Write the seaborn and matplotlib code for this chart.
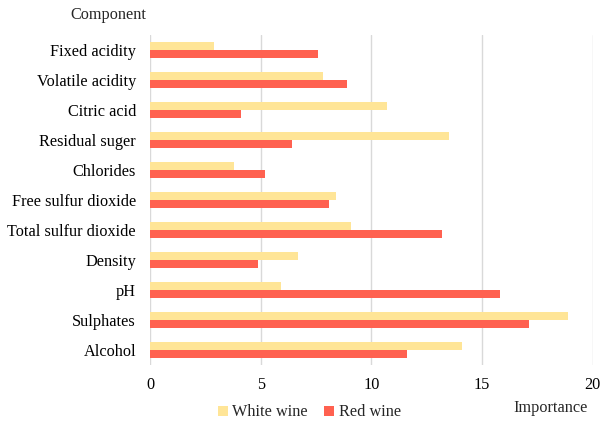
import pandas as pd
import seaborn as sns
import matplotlib
matplotlib.use("Agg")
import matplotlib.pyplot as plt

components = ["Fixed acidity", "Volatile acidity", "Citric acid", "Residual suger",
              "Chlorides", "Free sulfur dioxide", "Total sulfur dioxide", "Density",
              "pH", "Sulphates", "Alcohol"]
white_wine = [2.9, 7.8, 10.7, 13.5, 3.8, 8.4, 9.1, 6.7, 5.9, 18.9, 14.1]
red_wine = [7.6, 8.9, 4.1, 6.4, 5.2, 8.1, 13.2, 4.9, 15.8, 17.1, 11.6]
series = ["White wine", "Red wine"]
xticks = [0, 5, 10, 15, 20]

df = pd.DataFrame({
    "Component": components * 2,
    "Importance": white_wine + red_wine,
    "Wine": [series[0]] * len(components) + [series[1]] * len(components),
})

sns.set_style("white")
plt.rcParams["font.family"] = ["Liberation Serif", "DejaVu Serif"]

fig = plt.figure(figsize=(6, 4.23), dpi=100)
ax = fig.add_axes([0.25, 0.138, 0.738, 0.779])

sns.barplot(data=df, y="Component", x="Importance", hue="Wine", order=components,
            hue_order=series, palette=["#FFE597", "#FF6150"], width=0.54,
            orient="h", ax=ax, saturation=1, linewidth=0)

ax.set_xlim(0, 20)
ax.set_xticks(xticks)
ax.grid(axis="x", color="#D9D9D9", linewidth=1)
ax.set_axisbelow(True)
for s in ax.spines.values():
    s.set_visible(False)
ax.tick_params(axis="both", length=0, labelsize=11.7, colors="#000000")
ax.tick_params(axis="x", pad=9)
ax.tick_params(axis="y", pad=10)
ax.set_xlabel("")
ax.set_ylabel("")

fig.text(0.117, 0.965, "Component", fontsize=11.7, ha="left", va="center")
fig.text(0.918, 0.035, "Importance", fontsize=11.7, ha="center", va="center")

ax.legend(loc="center", bbox_to_anchor=(0.36, -0.145), ncol=2, frameon=False,
          fontsize=11.7, handlelength=0.6, handleheight=0.6, handletextpad=0.3,
          columnspacing=1.0)

fig.savefig("out.png", dpi=100)
